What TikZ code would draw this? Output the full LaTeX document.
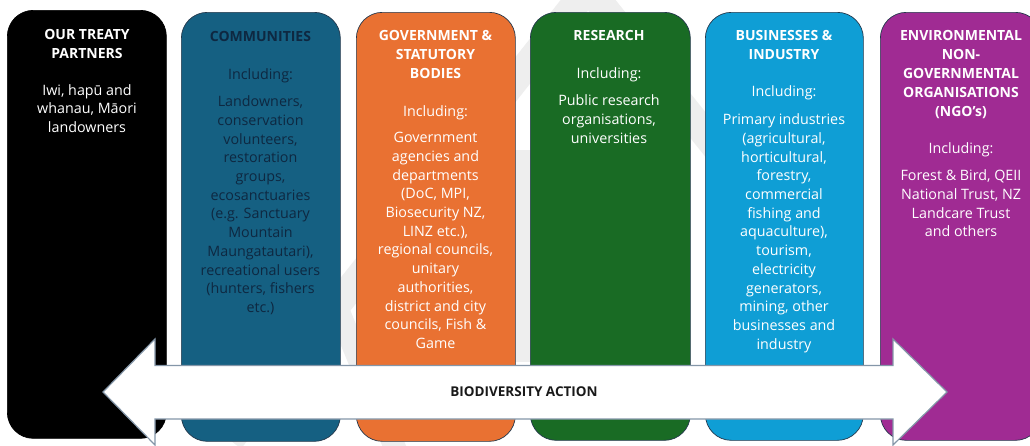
\documentclass[tikz,border=0pt]{standalone}
\usepackage{fontspec}
\setmainfont{Open Sans}
\definecolor{ink}{HTML}{0E2841}
\definecolor{edge}{HTML}{24384C}
\definecolor{cblack}{HTML}{000000}
\definecolor{cteal}{HTML}{156082}
\definecolor{corange}{HTML}{E97132}
\definecolor{cgreen}{HTML}{196B24}
\definecolor{cblue}{HTML}{0F9ED5}
\definecolor{cpurple}{HTML}{A02B93}
\definecolor{arrowedge}{HTML}{8496A8}
\definecolor{wmark}{HTML}{EEEEEE}
% centred stack of lines, aligned on the first baseline
\newcommand\lineset[1]{\begin{tabular}[t]{@{}c@{}}#1\end{tabular}}
\begin{document}
\begin{tikzpicture}[x=1pt,y=-1pt,
  box/.style={rectangle, rounded corners=26pt, draw=edge, line width=0.7pt,
    inner sep=0pt, anchor=north west, minimum width=159pt},
  head/.style={anchor=base, inner sep=0pt, font=\fontsize{14}{19}\selectfont\bfseries},
  incl/.style={anchor=base, inner sep=0pt, font=\fontsize{14.3}{18.7}\selectfont},
  body/.style={anchor=base, inner sep=0pt, font=\fontsize{14.3}{18.7}\selectfont},
  wm/.style={draw=wmark, line width=28pt}]
\clip (0,0) rectangle (1030,445);
\fill[white] (0,0) rectangle (1030,445);

% faint background chevron
\draw[wm] (230,440) -- (588,-12) -- (790,240);
\draw[wm, line width=22pt] (330,290) -- (400,460);
\fill[wmark] (512,150) -- (534,150) -- (534,362) -- (512,362) -- cycle;

% columns
\node[box, fill=cblack, draw=cblack, minimum height=428pt] (partners) at (7,10) {};
\node[box, fill=cteal, minimum height=429pt] (communities) at (181,12) {};
\node[box, fill=corange, minimum height=429pt] (government) at (356,12) {};
\node[box, fill=cgreen, minimum height=428pt, minimum width=160pt] (research) at (530,12) {};
\node[box, fill=cblue, minimum height=428pt, minimum width=158pt] (business) at (705,12) {};
\node[box, fill=cpurple, minimum height=428pt, minimum width=161pt] (ngo) at (880,12) {};

% treaty partners
\node[head, text=white] (partnersT) at (87,39.3) {\lineset{OUR TREATY\\PARTNERS}};
\node[body, text=white] (partnersB) at (87,95) {\lineset{Iwi, hapū and\\whanau, Māori\\landowners}};

% communities
\node[head, text=ink] (communitiesT) at (260.5,41) {\lineset{COMMUNITIES}};
\node[incl, text=ink] (communitiesI) at (260.5,79.5) {Including:};
\node[body, text=ink] (communitiesB) at (260.5,106.7) {\lineset{Landowners,\\conservation\\volunteers,\\restoration\\groups,\\ecosanctuaries\\(e.g. Sanctuary\\Mountain\\Maungatautari),\\recreational users\\(hunters, fishers\\etc.)}};

% government
\node[head, text=white] (governmentT) at (435.5,40) {\lineset{GOVERNMENT \&\\STATUTORY\\BODIES}};
\node[incl, text=white] (governmentI) at (435.5,116.7) {Including:};
\node[body, text=white] (governmentB) at (435.5,142.7) {\lineset{Government\\agencies and\\departments\\(DoC, MPI,\\Biosecurity NZ,\\LINZ etc.),\\regional councils,\\unitary\\authorities,\\district and city\\councils, Fish \&\\Game}};

% research
\node[head, text=white] (researchT) at (609,40) {\lineset{RESEARCH}};
\node[incl, text=white] (researchI) at (609,78.3) {Including:};
\node[body, text=white] (researchB) at (609,105.7) {\lineset{Public research\\organisations,\\universities}};

% businesses
\node[head, text=white] (businessT) at (784,40) {\lineset{BUSINESSES \&\\INDUSTRY}};
\node[incl, text=white] (businessI) at (784,96.7) {Including:};
\node[body, text=white] (businessB) at (784,124.7) {\lineset{Primary industries\\(agricultural,\\horticultural,\\forestry,\\commercial\\fishing and\\aquaculture),\\tourism,\\electricity\\generators,\\mining, other\\businesses and\\industry}};

% environmental NGOs
\node[head, text=white] (ngoT) at (961,40) {\lineset{ENVIRONMENTAL\\NON-\\GOVERNMENTAL\\ORGANISATIONS\\(NGO’s)}};
\node[incl, text=white] (ngoI) at (961,153) {Including:};
\node[body, text=white] (ngoB) at (961,180.7) {\lineset{Forest \& Bird, QEII\\National Trust, NZ\\Landcare Trust\\and others}};

% two-headed arrow across the columns
\filldraw[fill=white, draw=arrowedge, line width=1.2pt, line join=miter]
  (103,392) -- (155,339) -- (155,365.5) -- (893,365.5) -- (893,339)
  -- (947,392) -- (893,445) -- (893,419) -- (155,419) -- (155,445) -- cycle;
\node[anchor=base, inner sep=0pt, font=\fontsize{13.5}{16}\selectfont\bfseries, text=black!90]
  (action) at (524,396) {BIODIVERSITY ACTION};
\end{tikzpicture}
\end{document}
